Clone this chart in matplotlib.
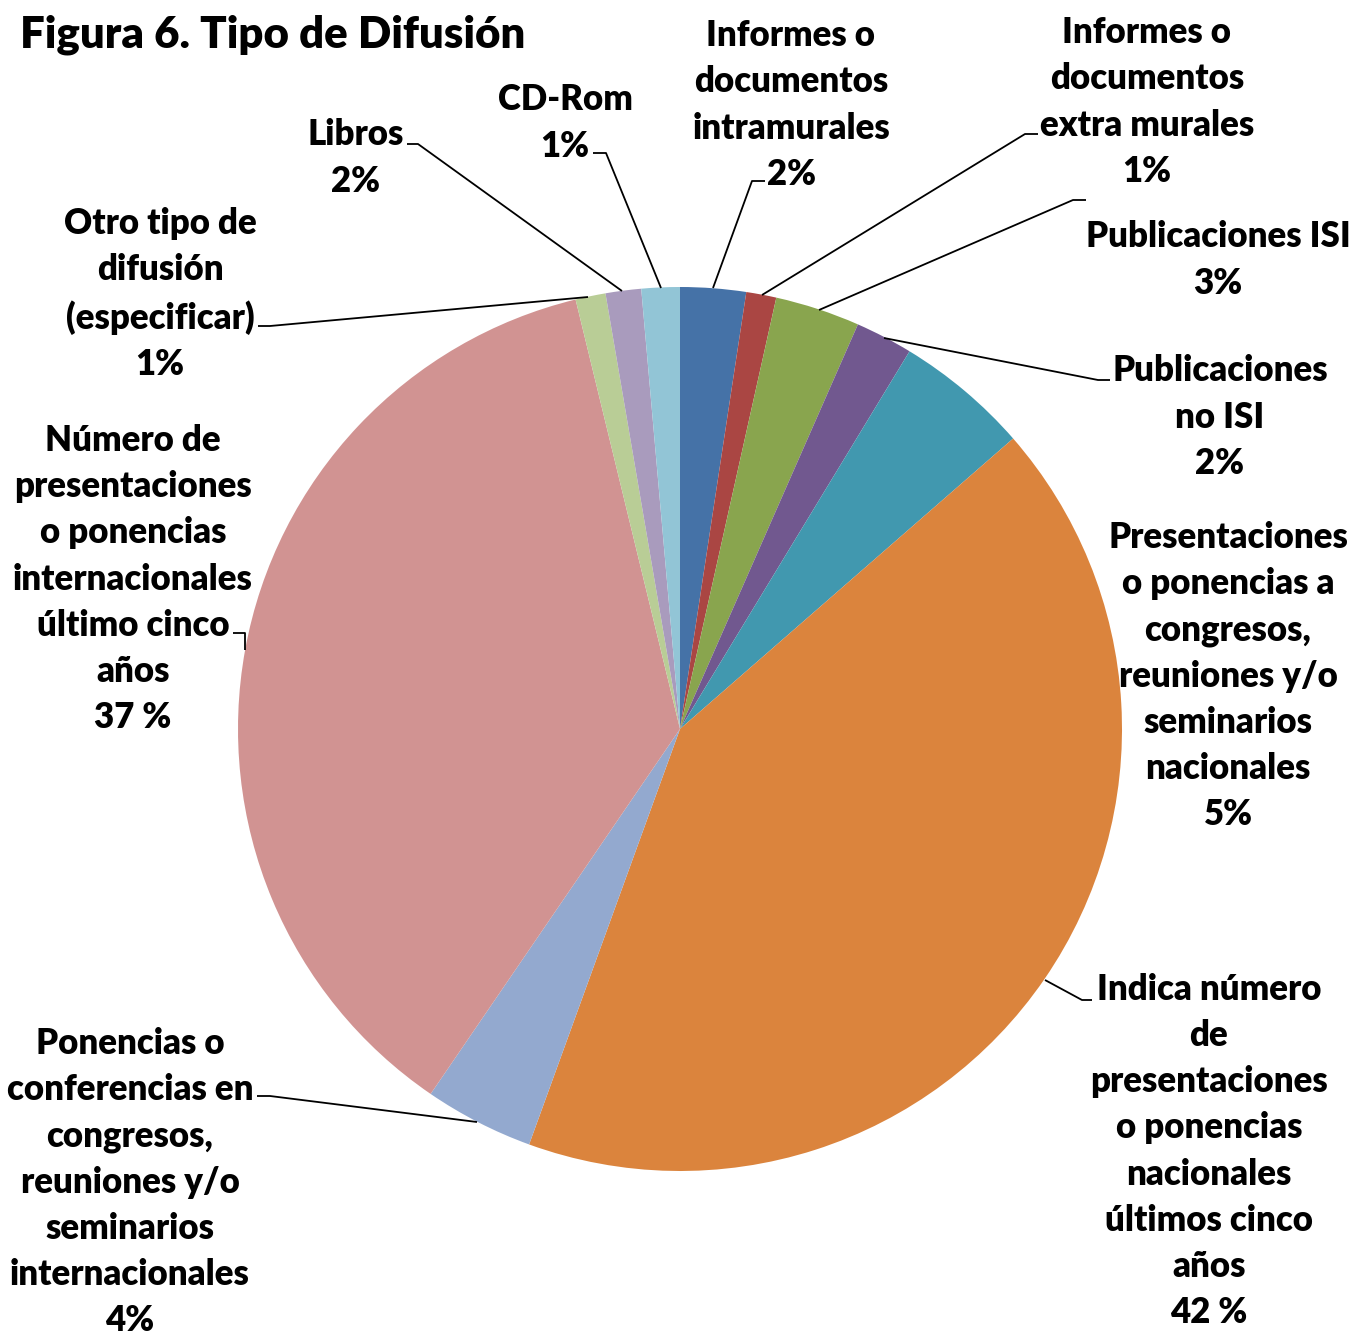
import matplotlib
matplotlib.use("Agg")
import matplotlib.pyplot as plt

W, H = 1349, 1336

categories = [
    "Informes o\ndocumentos\nintramurales",
    "Informes o\ndocumentos\nextra murales",
    "Publicaciones ISI",
    "Publicaciones\nno ISI",
    "Presentaciones\no ponencias a\ncongresos,\nreuniones y/o\nseminarios\nnacionales",
    "Indica número\nde\npresentaciones\no ponencias\nnacionales\núltimos cinco\naños",
    "Ponencias o\nconferencias en\ncongresos,\nreuniones y/o\nseminarios\ninternacionales",
    "Número de\npresentaciones\no ponencias\ninternacionales\núltimo cinco\naños",
    "Otro tipo de\ndifusión\n(especificar)",
    "Libros",
    "CD-Rom",
]
values = [2.4, 1.1, 3.1, 2.1, 4.9, 42.0, 4.0, 36.7, 1.1, 1.3, 1.4]
pct_labels = ["2%", "1%", "3%", "2%", "5%", "42 %", "4%", "37 %", "1%", "2%", "1%"]
colors = ["#4572A7", "#AA4643", "#89A54E", "#71588F", "#4198AF", "#DB843D",
          "#93A9CF", "#D19392", "#B9CD96", "#A99BBD", "#92C5D6"]

# label block centres (pixel coords, y from top)
label_pos = [(791, 105), (1147, 102), (1218, 260), (1220, 417), (1228, 676),
             (1209, 1151), (130, 1182), (133, 579), (160, 294), (356, 158), (565, 123)]
# leader lines (pixel coords, y from top)
leaders = [
    [(765, 181), (752, 181), (713, 288)],
    [(1038, 134), (1025, 134), (762, 295)],
    [(1086, 200), (1073, 200), (819, 310)],
    [(1110, 380), (1098, 380), (884, 338)],
    None,
    [(1092, 1000), (1082, 1000), (1045, 980)],
    [(257, 1096), (270, 1096), (477, 1122)],
    [(233, 633), (245, 633), (245, 650)],
    [(258, 326), (270, 326), (588, 297)],
    [(407, 144), (418, 144), (622, 291)],
    [(593, 153), (606, 153), (661, 288)],
]

fig = plt.figure(figsize=(W / 100, H / 100), dpi=100)
ax = fig.add_axes([0, 0, 1, 1])

ax.pie(values, colors=colors, startangle=90, counterclock=False,
       center=(680, H - 729), radius=442, frame=True,
       wedgeprops=dict(linewidth=0))
ax.set_xlim(0, W)
ax.set_ylim(0, H)
ax.set_aspect("equal")
ax.axis("off")

font = "Lato"
for cat, pct, (x, y), ld in zip(categories, pct_labels, label_pos, leaders):
    ax.text(x, H - y, cat + "\n" + pct, ha="center", va="center",
            multialignment="center", fontsize=25, fontweight="heavy",
            family=font, linespacing=1.485, color="black")
    if ld:
        xs = [p[0] for p in ld]
        ys = [H - p[1] for p in ld]
        ax.plot(xs, ys, color="black", linewidth=1.3, solid_capstyle="butt")

ax.text(20, H - 35, "Figura 6. Tipo de Difusión", ha="left", va="center",
        fontsize=31.5, fontweight="heavy", family=font, color="black")

fig.savefig("out.png", dpi=100)
